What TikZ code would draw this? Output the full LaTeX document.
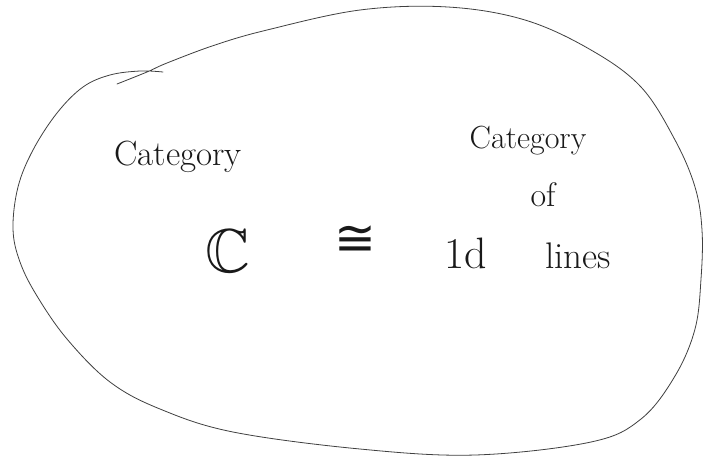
\documentclass[tikz,border=0pt]{standalone}
\usepackage{amssymb}
\usepackage{fontspec}
\newfontfamily\isofont{DejaVu Sans}
\begin{document}
\begin{tikzpicture}[x=1pt,y=-1pt,
  outline/.style={draw=black!75, line width=0.8pt, line cap=round, line join=round},
  lbl/.style={anchor=base, inner sep=0pt, text=black!90}]
\useasboundingbox[fill=white] (0,0) rectangle (717,459);
% blob outline (open stroke with small overlap at top left)
\draw[outline] plot[smooth, tension=0.6] coordinates {
  (117,84) (147,72) (167,63) (215,45) (267,30) (360,10) (448,7) (525,20)
  (591,50) (641,87) (675,140) (695,187) (702,230) (701,279) (695,329)
  (675,376) (641,419) (591,442) (475,455) (360,449) (233,432) (160,409)
  (110,382) (67,339) (37,296) (20,262) (13,229) (18,187) (33,150)
  (57,113) (83,87) (110,75) (140,71) (163,72)};
% texts
\node[lbl, font=\fontsize{35}{40}\selectfont] (catL) at (178,165) {Category};
\node[lbl, font=\fontsize{32}{38}\selectfont] (catR) at (528,148) {Category};
\node[lbl, font=\fontsize{34}{40}\selectfont] (of) at (543,206) {of};
\node[lbl, font=\fontsize{62}{70}\selectfont] (C) at (228,272) {$\mathbb{C}$};
\node[inner sep=0pt, text=black!90, font=\isofont\fontsize{50}{56}\selectfont] (iso) at (355,241) {≅};
\node[lbl, font=\fontsize{44}{50}\selectfont] (one) at (466,268) {1d};
\node[lbl, font=\fontsize{37}{44}\selectfont] (lines) at (578,268) {lines};
\end{tikzpicture}
\end{document}
